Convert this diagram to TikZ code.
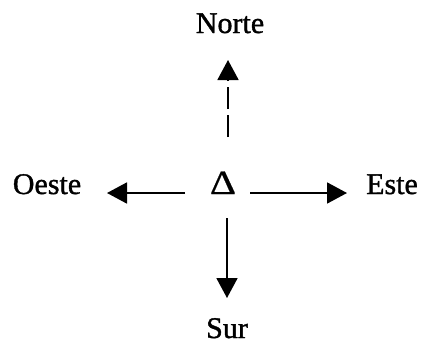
\documentclass[tikz,border=0pt]{standalone}
\usepackage{fontspec}
\setmainfont[FakeBold=1.2]{Liberation Serif}
\newfontfamily\deltafont[FakeBold=0.4]{Liberation Serif}
\usetikzlibrary{arrows.meta}
\begin{document}
\begin{tikzpicture}[x=1pt,y=-1pt,
  label/.style={font=\fontsize{30}{32}\selectfont, inner sep=0pt, anchor=base},
  arr/.style={line width=1.8pt, -{Triangle[length=20pt,width=21pt]}},
  dash arr/.style={arr, dash pattern=on 22pt off 6pt}]
\useasboundingbox (0,0) rectangle (426,362);

% compass labels
\node[label] (norte) at (230,33) {Norte};
\node[label] (oeste) at (47,194) {Oeste};
\node[label] (este)  at (392,194) {Este};
\node[label] (sur)   at (227,338) {Sur};
\node[label, font=\deltafont\fontsize{34}{36}\selectfont, xscale=1.2] (delta) at (223,194) {Δ};

% arrow end points
\coordinate (nS) at (228,137);
\coordinate (nE) at (228,60);
\coordinate (wS) at (185,193);
\coordinate (wE) at (107,193);
\coordinate (eS) at (250,193);
\coordinate (eE) at (347,193);
\coordinate (sS) at (227,218);
\coordinate (sE) at (227,298);

% arrows
\draw[dash arr] (nS) -- (nE);
\draw[arr] (wS) -- (wE);
\draw[arr] (eS) -- (eE);
\draw[arr] (sS) -- (sE);
\end{tikzpicture}
\end{document}
